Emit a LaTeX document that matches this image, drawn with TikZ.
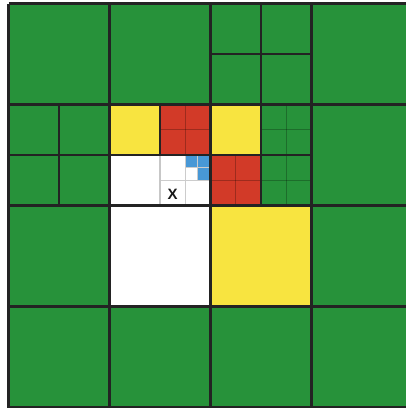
\documentclass[tikz,border=0pt]{standalone}
\usepackage{fontspec}
\setsansfont{Liberation Sans}
\definecolor{qgreen}{RGB}{39,146,58}
\definecolor{qyellow}{RGB}{248,228,64}
\definecolor{qred}{RGB}{210,58,40}
\definecolor{qblue}{RGB}{72,152,214}
\definecolor{qline}{RGB}{35,35,35}
\tikzset{
  major/.style={draw=qline, line width=2.5pt},
  half/.style={draw=qline, line width=1.7pt},
  halfpale/.style={draw=black!22, line width=1.2pt},
  quarter/.style={draw=black, draw opacity=0.25, line width=1.1pt},
  fine/.style={draw=black!20, line width=0.9pt},
  label/.style={font=\sffamily\bfseries\fontsize{15}{17}\selectfont, text=black!90, inner sep=0pt}
}
\begin{document}
\begin{tikzpicture}[x=101pt, y=-101pt]
\useasboundingbox (0pt,0pt) rectangle (406pt,-408pt);
\clip (0pt,0pt) rectangle (406pt,-408pt);
\begin{scope}[shift={(8.5pt,-3.5pt)}]
  % fills
  \fill[qgreen] (0,0) rectangle (4,4);
  \fill[qyellow] (1,1) rectangle (1.5,1.5);
  \fill[qyellow] (2,1) rectangle (2.5,1.5);
  \fill[qyellow] (2,2) rectangle (3,3);
  \fill[qred] (1.5,1) rectangle (2,1.5);
  \fill[qred] (2,1.5) rectangle (2.5,2);
  \fill[white] (1,1.5) rectangle (2,3);
  \fill[qblue] (1.75,1.5) rectangle (2,1.75);
  \fill[white] (1.75,1.625) rectangle (1.875,1.75);
  % finest lines (blue block)
  \draw[fine] (1.875,1.5) -- (1.875,1.75);
  \draw[fine] (1.75,1.625) -- (2,1.625);
  % quarter lines
  \draw[quarter] (1.75,1) -- (1.75,1.5);
  \draw[quarter] (1.5,1.25) -- (2,1.25);
  \draw[fine] (1.75,1.5) -- (1.75,2);
  \draw[fine] (1.5,1.75) -- (2,1.75);
  \draw[quarter] (2.25,1.5) -- (2.25,2);
  \draw[quarter] (2,1.75) -- (2.5,1.75);
  \draw[quarter] (2.75,1) -- (2.75,2);
  \draw[quarter] (2.5,1.25) -- (3,1.25);
  \draw[quarter] (2.5,1.75) -- (3,1.75);
  % half lines
  \draw[half] (2.5,0) -- (2.5,1);
  \draw[half] (2,0.5) -- (3,0.5);
  \draw[half] (0.5,1) -- (0.5,2);
  \draw[half] (0,1.5) -- (1,1.5);
  \draw[half] (1.5,1) -- (1.5,1.5);
  \draw[halfpale] (1.5,1.5) -- (1.5,2);
  \draw[half] (1,1.5) -- (2,1.5);
  \draw[half] (2.5,1) -- (2.5,2);
  \draw[half] (2,1.5) -- (3,1.5);
  % major grid
  \foreach \i in {0,1,2,3,4} {
    \draw[major] (\i,0) -- (\i,4);
    \draw[major] (0,\i) -- (4,\i);
  }
  % label
  \node[label] (x) at (1.625,1.885) {X};
\end{scope}
\end{tikzpicture}
\end{document}
